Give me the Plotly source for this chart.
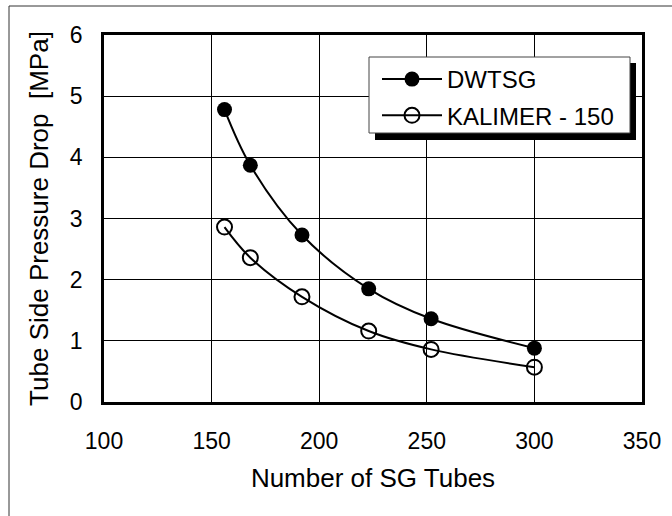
import plotly.graph_objects as go

# ---- data ----
tubes = [156, 168, 192, 223, 252, 300]
dwtsg = [4.78, 3.87, 2.73, 1.85, 1.36, 0.88]
kalimer = [2.86, 2.36, 1.72, 1.16, 0.86, 0.57]
series_names = ["DWTSG", "KALIMER - 150"]
x_ticks = [100, 150, 200, 250, 300, 350]
y_ticks = [0, 1, 2, 3, 4, 5, 6]

W, H = 672, 516
ML, MR, MT, MB = 104, 30, 35, 114
PW, PH = W - ML - MR, H - MT - MB
FONT = "Liberation Sans, Arial, sans-serif"


def px_x(p):
    return (p - ML) / PW


def px_y(p):
    return (H - MB - p) / PH


fig = go.Figure()
fig.add_trace(go.Scatter(
    x=tubes, y=dwtsg, name=series_names[0], mode="lines+markers",
    line=dict(color="black", width=2, shape="spline", smoothing=1),
    marker=dict(symbol="circle", size=15, color="black"),
    legendgroup="a",
))
fig.add_trace(go.Scatter(
    x=tubes, y=kalimer, name=series_names[1], mode="lines+markers",
    line=dict(color="black", width=2, shape="spline", smoothing=1),
    marker=dict(symbol="circle-open", size=15, color="black", line=dict(width=2)),
    legendgroup="b",
))

axis_common = dict(
    showline=True, linecolor="black", linewidth=2.5, mirror=True,
    showgrid=True, gridcolor="black", gridwidth=1,
    zeroline=False, ticks="", color="black",
    tickfont=dict(family=FONT, size=23, color="black"),
)

fig.update_xaxes(
    range=[100, 350], tickvals=x_ticks, ticktext=[str(v) for v in x_ticks],
    title=dict(text="Number of SG Tubes", font=dict(family=FONT, size=26, color="black"), standoff=16),
    ticklabelstandoff=17,
    **axis_common,
)
fig.update_yaxes(
    range=[0, 6], tickvals=y_ticks, ticktext=[str(v) for v in y_ticks],
    title=dict(text="Tube Side Pressure Drop  [MPa]", font=dict(family=FONT, size=26, color="black"), standoff=14),
    ticklabelstandoff=14,
    **axis_common,
)

# legend shadow/box and outer frame lines
shapes = [
    dict(type="rect", xref="paper", yref="paper",
         x0=px_x(375), x1=px_x(636), y0=px_y(140), y1=px_y(63),
         fillcolor="black", line=dict(width=0), layer="above"),
    dict(type="rect", xref="paper", yref="paper",
         x0=px_x(369), x1=px_x(630), y0=px_y(133), y1=px_y(57),
         fillcolor="white", line=dict(color="#444", width=1), layer="above"),
    dict(type="line", xref="paper", yref="paper",
         x0=px_x(9), x1=px_x(680), y0=px_y(6), y1=px_y(6),
         line=dict(color="#333", width=1)),
    dict(type="line", xref="paper", yref="paper",
         x0=px_x(9), x1=px_x(9), y0=px_y(6), y1=px_y(530),
         line=dict(color="#333", width=1)),
]

fig.update_layout(
    width=W, height=H,
    margin=dict(l=ML, r=MR, t=MT, b=MB),
    paper_bgcolor="white", plot_bgcolor="white",
    font=dict(family=FONT, color="black"),
    shapes=shapes,
    showlegend=True,
    legend=dict(
        x=px_x(377), y=px_y(57), xanchor="left", yanchor="top",
        bgcolor="rgba(0,0,0,0)", borderwidth=0,
        font=dict(family=FONT, size=24, color="black"),
        itemwidth=60, tracegroupgap=2, traceorder="grouped",
    ),
)

fig.write_html("out.html")
